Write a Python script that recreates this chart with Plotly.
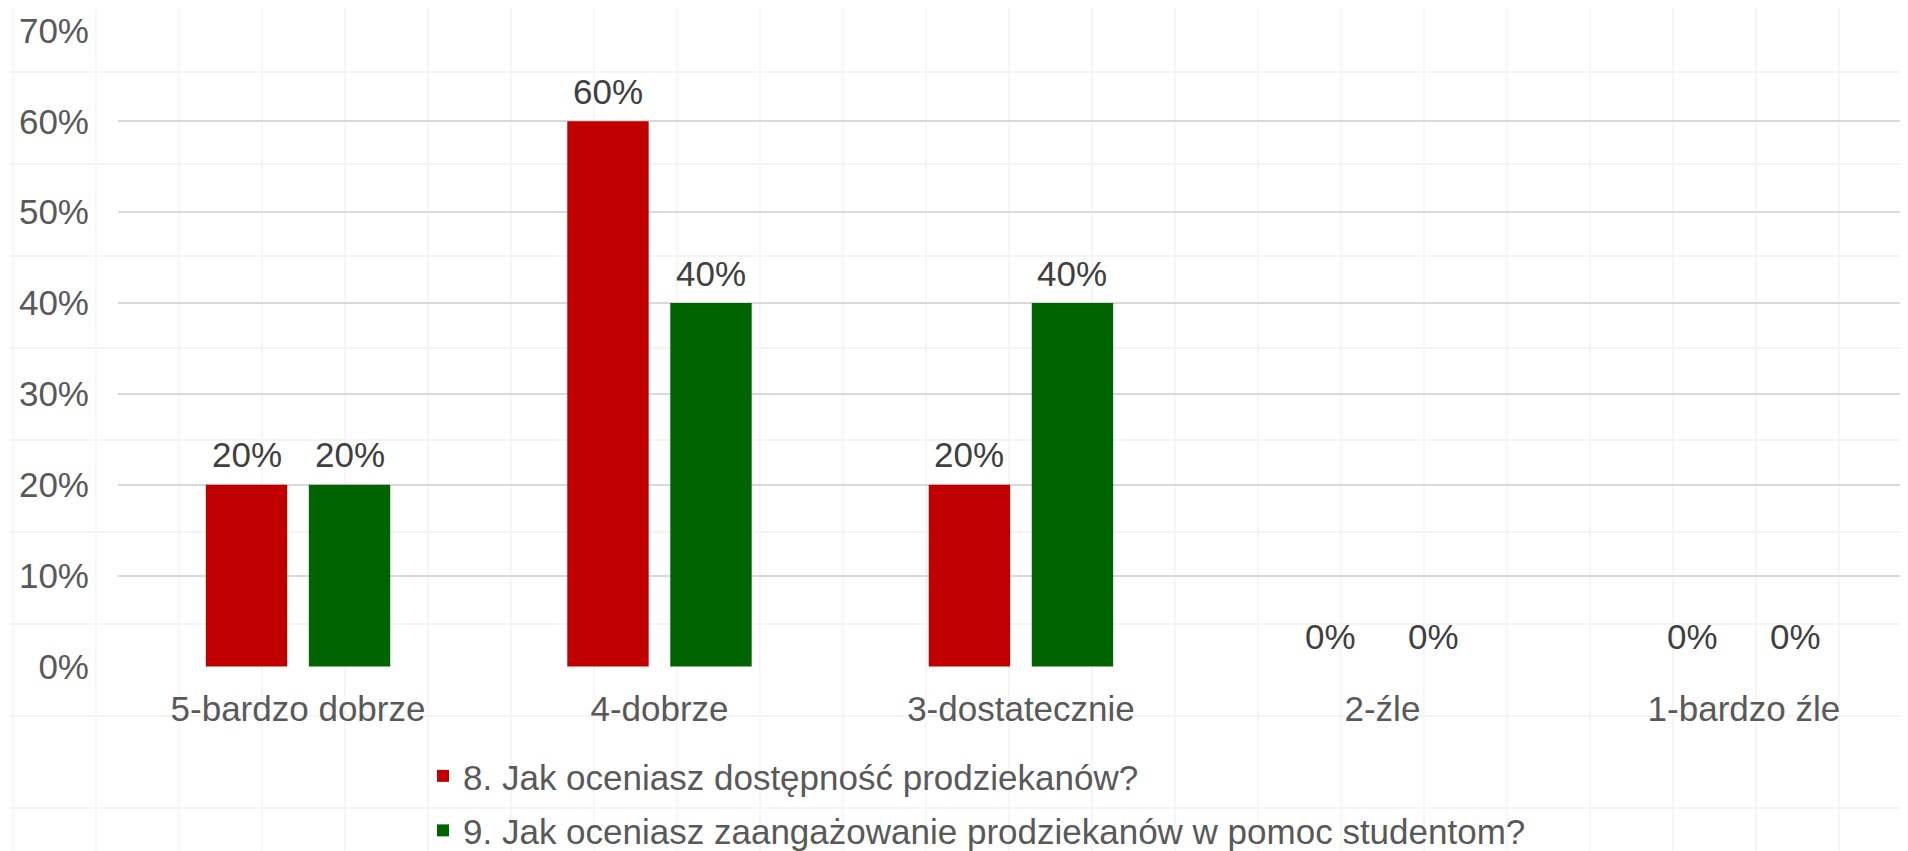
import plotly.graph_objects as go

categories = ["5-bardzo dobrze", "4-dobrze", "3-dostatecznie", "2-źle", "1-bardzo źle"]
series_names = [
    "8. Jak oceniasz dostępność prodziekanów?",
    "9. Jak oceniasz zaangażowanie prodziekanów w pomoc studentom?",
]
values_q8 = [20, 60, 20, 0, 0]
values_q9 = [20, 40, 40, 0, 0]
y_ticks = [0, 10, 20, 30, 40, 50, 60, 70]
y_tick_labels = ["0%", "10%", "20%", "30%", "40%", "50%", "60%", "70%"]

colors = ["#C00000", "#006400"]
FONT = "Liberation Sans, Arial, sans-serif"
FS = 35

# page has an 8px body margin, so the figure is drawn 8px smaller
W, H = 1900, 843
ML, MR, MT, MB = 110, 0, 22, 184
PW, PH = W - ML - MR, H - MT - MB
X_RANGE = [-0.498, 4.454]
BARGAP, GROUPGAP = 0.43, 0.21

fig = go.Figure()
series = [values_q8, values_q9]
for i, (name, vals) in enumerate(zip(series_names, series)):
    fig.add_trace(go.Bar(
        x=categories, y=vals, name=name,
        marker=dict(color=colors[i], line=dict(width=0)),
        legendgroup=f"g{i}", hoverinfo="skip",
    ))

# data labels: placed at each bar's (category, value) via the axes,
# shifted sideways by half a bar slot to sit above the grouped bar
cat_px = PW / (X_RANGE[1] - X_RANGE[0])
slot_px = cat_px * (1 - BARGAP) / len(series)
annotations = []
for i, vals in enumerate(series):
    dx = (i - (len(series) - 1) / 2) * slot_px
    for c, v in zip(categories, vals):
        annotations.append(dict(
            x=c, y=v, xref="x", yref="y", text=f"{v}%", showarrow=False,
            xshift=dx, yshift=30, yanchor="middle", xanchor="center",
            font=dict(family=FONT, size=FS, color="#404040"),
        ))

# faint background paper grid (decorative)
shapes = []
for py in range(64, H, 92):
    yp = 1 - (py - MT) / PH
    shapes.append(dict(type="line", xref="paper", yref="paper", x0=-ML / PW, x1=1.0,
                       y0=yp, y1=yp, line=dict(color="#f4f4f4", width=2), layer="below"))
for px in range(5, W, 83):
    xp = (px - ML) / PW
    shapes.append(dict(type="line", xref="paper", yref="paper", x0=xp, x1=xp,
                       y0=-MB / PH, y1=1 + MT / PH, line=dict(color="#f6f6f6", width=2), layer="below"))

fig.update_layout(
    width=W, height=H,
    paper_bgcolor="white", plot_bgcolor="rgba(0,0,0,0)",
    margin=dict(l=ML, r=MR, t=MT, b=MB, autoexpand=False),
    barmode="group", bargap=BARGAP, bargroupgap=GROUPGAP,
    font=dict(family=FONT, size=FS, color="#595959"),
    showlegend=True,
    legend=dict(
        orientation="v", x=(415 - ML) / PW, xanchor="left", y=-0.125, yanchor="top",
        font=dict(family=FONT, size=FS, color="#595959"),
        tracegroupgap=6, bgcolor="rgba(0,0,0,0)",
    ),
    shapes=shapes,
    annotations=annotations,
    xaxis=dict(
        range=X_RANGE, automargin=False,
        showgrid=False, showline=False, zeroline=False, ticks="",
        tickfont=dict(family=FONT, size=FS, color="#595959"),
        ticklabelstandoff=18,
    ),
    yaxis=dict(
        range=[-0.05, 70.05], tickvals=y_ticks, ticktext=y_tick_labels, automargin=False,
        showgrid=True, gridcolor="#d9d9d9", gridwidth=2,
        zeroline=False, showline=False, ticks="",
        tickfont=dict(family=FONT, size=FS, color="#595959"),
        ticklabelstandoff=28,
    ),
)

fig.write_html("out.html")
